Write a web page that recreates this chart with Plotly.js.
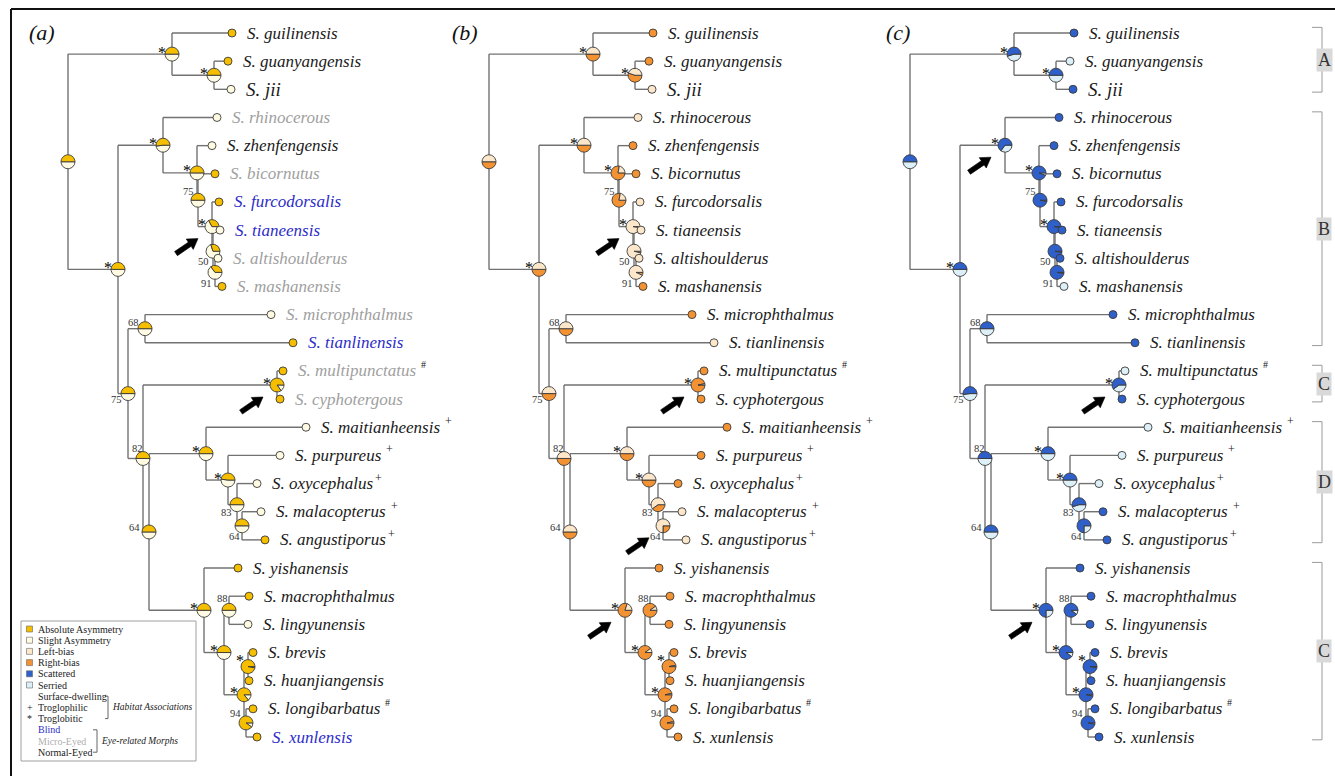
<!DOCTYPE html>
<html><head><meta charset="utf-8">
<script src="https://cdn.plot.ly/plotly-3.0.1.min.js"></script>
<style>html,body{margin:0;padding:0;background:#fff;}#chart{width:1335px;height:776px;}</style>
</head><body><div id="chart"></div>
<script>
// ================= DATA =================
const tipNames = ['S. guilinensis','S. guanyangensis','S. jii','S. rhinocerous','S. zhenfengensis','S. bicornutus','S. furcodorsalis','S. tianeensis','S. altishoulderus','S. mashanensis','S. microphthalmus','S. tianlinensis','S. multipunctatus','S. cyphotergous','S. maitianheensis','S. purpureus','S. oxycephalus','S. malacopterus','S. angustiporus','S. yishanensis','S. macrophthalmus','S. lingyunensis','S. brevis','S. huanjiangensis','S. longibarbatus','S. xunlensis'];
const tipDepth = [164,160,163,149,144,147,151,152,150,154,203,225,215,212,238,212,189,193,197,170,181,180,185,181,185,189];
const tipHabitat = ['','','','','','','','','','','','','#','','+','+','+','+','+','','','','','','#',''];
const tipEye = ['N','N','N','M','N','M','B','B','M','M','M','B','M','M','N','N','N','N','N','N','N','N','N','N','N','B'];
// tip state: 1 = first state of the panel (Absolute asymmetry / Left-bias / Scattered)
const tipStateA = [1,1,0,0,0,1,1,0,0,1,0,1,1,1,0,0,0,0,1,1,1,0,1,1,1,1];
const tipStateB = [0,0,1,1,0,0,1,1,1,0,0,1,0,0,0,0,0,1,1,0,0,0,0,0,0,0];
const tipStateC = [1,0,1,1,1,1,1,1,1,0,1,1,0,1,0,0,0,1,1,1,1,1,1,1,1,1];

const nodeIds = ['ROOT','A','GJ','REST','B','N5','N4','N3','N2','N1','N75','N68','N82','MC','N64','D','DP','N83','N64b','C2','CB','N88','CBB','BH','N94'];
const nodeChildren = [
  ['A','REST'],
  ['S. guilinensis','GJ'],
  ['S. guanyangensis','S. jii'],
  ['B','N75'],
  ['S. rhinocerous','N5'],
  ['S. zhenfengensis','N4'],
  ['S. bicornutus','N3'],
  ['S. furcodorsalis','N2'],
  ['S. tianeensis','N1'],
  ['S. altishoulderus','S. mashanensis'],
  ['N68','N82'],
  ['S. microphthalmus','S. tianlinensis'],
  ['MC','N64'],
  ['S. multipunctatus','S. cyphotergous'],
  ['D','C2'],
  ['S. maitianheensis','DP'],
  ['S. purpureus','N83'],
  ['S. oxycephalus','N64b'],
  ['S. malacopterus','S. angustiporus'],
  ['S. yishanensis','CB'],
  ['N88','CBB'],
  ['S. macrophthalmus','S. lingyunensis'],
  ['BH','N94'],
  ['S. brevis','S. huanjiangensis'],
  ['S. longibarbatus','S. xunlensis']
];
const nodeDepth = [0,104,146,50,95,129,130,144,145,147,60,77,75,209,81,138,160,169,174,136,156,161,176,180,178];
const nodeSupport = ['','*','*','*','*','*','75','*','50','91','75','68','82','*','64','*','*','83','64','*','*','88','*','*','94'];
// probability of the first state at each node
const nodeProbA = [0.5,0.5,0.5,0.5,0.52,0.5,0.5,0.33,0.3,0.35,0.5,0.5,0.5,0.85,0.5,0.5,0.48,0.5,0.5,0.5,0.5,0.5,0.86,0.97,0.9];
const nodeProbB = [0.5,0.5,0.45,0.5,0.5,0.22,0.22,0.97,0.96,0.93,0.5,0.5,0.5,0.03,0.5,0.5,0.5,0.6,0.75,0.2,0.1,0.1,0.03,0.03,0.03];
const nodeProbC = [0.5,0.55,0.5,0.5,0.65,0.94,0.97,0.97,0.97,0.97,0.52,0.5,0.5,0.6,0.5,0.5,0.5,0.55,0.75,0.75,0.9,0.9,0.97,0.97,0.97];

const arrowsA = ['N3','MC'];
const arrowsB = ['N3','MC','N64b','C2'];
const arrowsC = ['B','MC','C2'];

const cladeLabels = ['A','B','C','D','C'];
const cladeFirstTip = [0,3,12,14,19];
const cladeLastTip = [2,11,13,18,25];

const legendStates = ['Absolute Asymmetry','Slight Asymmetry','Left-bias','Right-bias','Scattered','Serried'];
const legendHabitat = ['Surface-dwelling','Troglophilic','Troglobitic'];
const legendHabitatMark = ['','+','*'];
const legendEye = ['Blind','Micro-Eyed','Normal-Eyed'];
const legendEyeCode = ['B','M','N'];

// ================= STYLE / LAYOUT =================
const W = 1335, H = 776;
const PXY = 28.16;         // px per tip step
const Y0 = 33;             // px of first tip
const FONT = 'Liberation Serif, Times New Roman, serif';
const eyeColor = {N:'#1a1a1a', M:'#a0a0a0', B:'#2c2cc8'};
const stateColors = ['#F5BF00','#FFFBE2','#FCE7CB','#F39232','#2F5FC8','#DDEFF7'];
const panels = [
  {xa:'x',  ax:'xaxis',  dom:[0,420], range:[-68,352], colors:[stateColors[0],stateColors[1]], tip:tipStateA, prob:nodeProbA, arrows:arrowsA, label:'(a)', labelX:27, eyeColored:true},
  {xa:'x2', ax:'xaxis2', dom:[420,840], range:[-69,351], colors:[stateColors[2],stateColors[3]], tip:tipStateB, prob:nodeProbB, arrows:arrowsB, label:'(b)', labelX:450, eyeColored:false},
  {xa:'x3', ax:'xaxis3', dom:[840,1335], range:[-70,425], colors:[stateColors[4],stateColors[5]], tip:tipStateC, prob:nodeProbC, arrows:arrowsC, label:'(c)', labelX:884, eyeColored:false}
];
const supportOffset = {N4:[-10,-9], N2:[-10,10], N1:[-9,11], N75:[-12,6], N68:[-12,-6], N82:[-6,-10], N64:[-15,-4], N83:[-11,8], N64b:[-8,11], N88:[-7,-12], N94:[-11,-9]};
const starOffset = {BH:[-8,-6]};
const labelSize = {'S. jii':19};
const PR = 7;     // pie radius px
const LABEL_SHIFT = 13;

// ================= TREE GEOMETRY =================
const tipIndex = {}; tipNames.forEach((n,i)=>tipIndex[n]=i);
const nodeIndex = {}; nodeIds.forEach((n,i)=>nodeIndex[n]=i);
const nodeY = {};
function yOf(id){
  if (id in tipIndex) return tipIndex[id];
  if (id in nodeY) return nodeY[id];
  const ch = nodeChildren[nodeIndex[id]].map(yOf);
  nodeY[id] = (Math.min(...ch)+Math.max(...ch))/2;
  return nodeY[id];
}
function xOf(id){ return (id in tipIndex) ? tipDepth[tipIndex[id]] : nodeDepth[nodeIndex[id]]; }
nodeIds.forEach(yOf);

const PX = x => x/W, PY = y => 1 - y/H;
const traces = [], annotations = [], shapes = [];
const ctx = document.createElement('canvas').getContext('2d');
function textWidth(t, size){ ctx.font = 'italic '+size+'px "Liberation Serif"'; return ctx.measureText(t).width; }

function wedge(xs, ys, cx, cy, a0, a1){
  const n = Math.max(2, Math.ceil((a1-a0)/(2*Math.PI)*72));
  xs.push(cx); ys.push(cy);
  for (let k=0;k<=n;k++){ const a=a0+(a1-a0)*k/n; xs.push(cx+PR*Math.cos(a)); ys.push(cy-PR*Math.sin(a)/PXY); }
  xs.push(cx); ys.push(cy); xs.push(null); ys.push(null);
}
// arrow polygon (pixel offsets relative to node)
function arrowPoly(xs, ys, cx, cy){
  const tail=[-36,27], tip=[-14,12], hl=10, hw=12.5, sw=5;
  const dx=tip[0]-tail[0], dy=tip[1]-tail[1], L=Math.hypot(dx,dy);
  const ux=dx/L, uy=dy/L, nx=-uy, ny=ux;
  const bx=tip[0]-ux*hl, by=tip[1]-uy*hl;
  const pts=[[tail[0]+nx*sw/2,tail[1]+ny*sw/2],[bx+nx*sw/2,by+ny*sw/2],[bx+nx*hw/2,by+ny*hw/2],tip,
             [bx-nx*hw/2,by-ny*hw/2],[bx-nx*sw/2,by-ny*sw/2],[tail[0]-nx*sw/2,tail[1]-ny*sw/2]];
  pts.forEach(p=>{ xs.push(cx+p[0]); ys.push(cy+p[1]/PXY); });
  xs.push(cx+pts[0][0]); ys.push(cy+pts[0][1]/PXY); xs.push(null); ys.push(null);
}

panels.forEach((p)=>{
  // edges
  const ex=[], ey=[];
  nodeIds.forEach((id,i)=>{
    const nx = nodeDepth[i];
    const cys = nodeChildren[i].map(yOf);
    ex.push(nx,nx,null); ey.push(Math.min(...cys),Math.max(...cys),null);
    nodeChildren[i].forEach(c=>{ ex.push(nx,xOf(c),null); ey.push(yOf(c),yOf(c),null); });
  });
  traces.push({type:'scatter',mode:'lines',x:ex,y:ey,xaxis:p.xa,yaxis:'y',line:{color:'#727272',width:1.4},hoverinfo:'skip',showlegend:false});
  // pies
  const tx=[],ty=[],bx=[],by=[];
  nodeIds.forEach((id,i)=>{
    const f = p.prob[i], cx = nodeDepth[i], cy = nodeY[id];
    wedge(tx,ty,cx,cy,0,f*2*Math.PI);
    wedge(bx,by,cx,cy,f*2*Math.PI,2*Math.PI);
  });
  traces.push({type:'scatter',mode:'lines',x:bx,y:by,xaxis:p.xa,yaxis:'y',fill:'toself',fillcolor:p.colors[1],line:{color:'#3a3a3a',width:0.9},hoverinfo:'skip',showlegend:false});
  traces.push({type:'scatter',mode:'lines',x:tx,y:ty,xaxis:p.xa,yaxis:'y',fill:'toself',fillcolor:p.colors[0],line:{color:'#3a3a3a',width:0.9},hoverinfo:'skip',showlegend:false});
  // tips
  traces.push({type:'scatter',mode:'markers',x:tipDepth,y:tipNames.map((n,i)=>i),xaxis:p.xa,yaxis:'y',
    marker:{size:8,color:p.tip.map(s=>s?p.colors[0]:p.colors[1]),line:{color:'#3a3a3a',width:0.9}},hoverinfo:'skip',showlegend:false});
  // arrows
  const ax=[], ay=[];
  p.arrows.forEach(id=>arrowPoly(ax, ay, nodeDepth[nodeIndex[id]], nodeY[id]));
  traces.push({type:'scatter',mode:'lines',x:ax,y:ay,xaxis:p.xa,yaxis:'y',fill:'toself',fillcolor:'#000',line:{color:'#000',width:0.6},hoverinfo:'skip',showlegend:false});
  // tip labels and habitat marks
  tipNames.forEach((n,i)=>{
    const sz = labelSize[n]||17;
    annotations.push({xref:p.xa,yref:'y',x:tipDepth[i],y:i,xanchor:'left',yanchor:'middle',xshift:LABEL_SHIFT,showarrow:false,
      text:'<i>'+n+'</i>',font:{family:FONT,size:sz,color:p.eyeColored?eyeColor[tipEye[i]]:'#1a1a1a'}});
    if (tipHabitat[i]){
      const gap = (n==='S. oxycephalus'||n==='S. angustiporus') ? 1 : 4;
      annotations.push({xref:p.xa,yref:'y',x:tipDepth[i],y:i,xanchor:'left',yanchor:'middle',
        xshift:LABEL_SHIFT+1+textWidth(n,sz)+gap,yshift:6,showarrow:false,
        text:tipHabitat[i],font:{family:FONT,size:tipHabitat[i]==='#'?10:12,color:'#1a1a1a'}});
    }
  });
  // supports
  nodeIds.forEach((id,i)=>{
    const s = nodeSupport[i]; if(!s) return;
    if (s==='*'){
      const o = starOffset[id]||[-10,-2];
      annotations.push({xref:p.xa,yref:'y',x:nodeDepth[i],y:nodeY[id],xanchor:'center',yanchor:'middle',xshift:o[0],yshift:-o[1],showarrow:false,text:'*',font:{family:FONT,size:16,color:'#000'}});
    } else {
      const o = supportOffset[id]||[-10,-9];
      annotations.push({xref:p.xa,yref:'y',x:nodeDepth[i],y:nodeY[id],xanchor:'center',yanchor:'middle',xshift:o[0],yshift:-o[1],showarrow:false,text:s,font:{family:FONT,size:10.5,color:'#333'}});
    }
  });
  // panel label
  annotations.push({xref:'paper',yref:'paper',x:PX(p.labelX),y:PY(33),xanchor:'left',yanchor:'middle',showarrow:false,
    text:'<i>'+p.label+'</i>',font:{family:FONT,size:22,color:'#111'}});
});

// clade brackets (panel c)
cladeLabels.forEach((c,k)=>{
  const y1 = cladeFirstTip[k]-0.2, y2 = cladeLastTip[k]+0.1;
  shapes.push({type:'line',xref:'paper',yref:'y',x0:PX(1322),x1:PX(1322),y0:y1,y1:y2,line:{color:'#9a9a9a',width:1}});
  shapes.push({type:'line',xref:'paper',yref:'y',x0:PX(1312),x1:PX(1322),y0:y1,y1:y1,line:{color:'#9a9a9a',width:1}});
  shapes.push({type:'line',xref:'paper',yref:'y',x0:PX(1312),x1:PX(1322),y0:y2,y1:y2,line:{color:'#9a9a9a',width:1}});
  annotations.push({xref:'paper',yref:'y',x:PX(1324),y:(y1+y2)/2,xanchor:'center',yanchor:'middle',showarrow:false,
    text:c,bgcolor:'#d9d9d9',borderpad:1,font:{family:FONT,size:18,color:'#333'}});
});

// frame
shapes.push({type:'line',xref:'paper',yref:'paper',x0:PX(11),x1:PX(1335),y0:PY(9),y1:PY(9),line:{color:'#111',width:2}});
shapes.push({type:'line',xref:'paper',yref:'paper',x0:PX(11),x1:PX(11),y0:PY(9),y1:PY(776),line:{color:'#111',width:2}});

// legend box
shapes.push({type:'rect',xref:'paper',yref:'paper',x0:PX(21),x1:PX(196),y0:PY(621),y1:PY(761),line:{color:'#a0a0a0',width:1},fillcolor:'#fff'});
const LY0 = 629, LDY = 11.2;
const lgFont = {family:FONT,size:10,color:'#222'};
legendStates.forEach((t,k)=>{
  const y = LY0 + k*LDY;
  shapes.push({type:'rect',xref:'paper',yref:'paper',x0:PX(26.5),x1:PX(32.5),y0:PY(y-3),y1:PY(y+3),fillcolor:stateColors[k],line:{color:'#666',width:0.6}});
  annotations.push({xref:'paper',yref:'paper',x:PX(36),y:PY(y),xanchor:'left',yanchor:'middle',showarrow:false,text:t,font:lgFont});
});
legendHabitat.forEach((t,k)=>{
  const y = LY0 + (6+k)*LDY;
  annotations.push({xref:'paper',yref:'paper',x:PX(36),y:PY(y),xanchor:'left',yanchor:'middle',showarrow:false,text:t,font:lgFont});
  if (legendHabitatMark[k]) annotations.push({xref:'paper',yref:'paper',x:PX(29.5),y:PY(y),xanchor:'center',yanchor:'middle',showarrow:false,text:legendHabitatMark[k],font:lgFont});
});
legendEye.forEach((t,k)=>{
  const y = LY0 + (9+k)*LDY;
  const col = legendEyeCode[k]==='M' ? '#b0b0b0' : eyeColor[legendEyeCode[k]];
  annotations.push({xref:'paper',yref:'paper',x:PX(36),y:PY(y),xanchor:'left',yanchor:'middle',showarrow:false,text:t,font:{family:FONT,size:10,color:col}});
});
// brackets in legend
const hbT = LY0+6*LDY, hbB = LY0+8*LDY;
shapes.push({type:'path',xref:'paper',yref:'paper',path:`M ${PX(105)} ${PY(hbT)} L ${PX(108)} ${PY(hbT)} L ${PX(108)} ${PY(hbB)} L ${PX(105)} ${PY(hbB)}`,line:{color:'#666',width:1}});
annotations.push({xref:'paper',yref:'paper',x:PX(110),y:PY((hbT+hbB)/2),xanchor:'left',yanchor:'middle',showarrow:false,text:'<i>Habitat Associations</i>',font:{family:FONT,size:9.5,color:'#222'}});
const ebT = LY0+9*LDY, ebB = LY0+11*LDY;
shapes.push({type:'path',xref:'paper',yref:'paper',path:`M ${PX(93)} ${PY(ebT)} L ${PX(97)} ${PY(ebT)} L ${PX(97)} ${PY(ebB)} L ${PX(93)} ${PY(ebB)}`,line:{color:'#666',width:1}});
annotations.push({xref:'paper',yref:'paper',x:PX(99),y:PY((ebT+ebB)/2),xanchor:'left',yanchor:'middle',showarrow:false,text:'<i>Eye-related Morphs</i>',font:{family:FONT,size:9.5,color:'#222'}});

const hiddenAxis = (dom, range) => ({domain:[dom[0]/W, dom[1]/W], range:range, visible:false, showgrid:false, zeroline:false, fixedrange:true, anchor:'y'});
const layout = {
  width:W, height:H, margin:{l:0,r:0,t:0,b:0}, paper_bgcolor:'#fff', plot_bgcolor:'rgba(0,0,0,0)', showlegend:false,
  yaxis:{domain:[0,1], range:[(H-Y0)/PXY, -Y0/PXY], visible:false, showgrid:false, zeroline:false, fixedrange:true},
  annotations:annotations, shapes:shapes
};
panels.forEach(p=>{ layout[p.ax] = hiddenAxis(p.dom, p.range); });
Plotly.newPlot('chart', traces, layout, {staticPlot:true, displayModeBar:false});
</script>
</body></html>
